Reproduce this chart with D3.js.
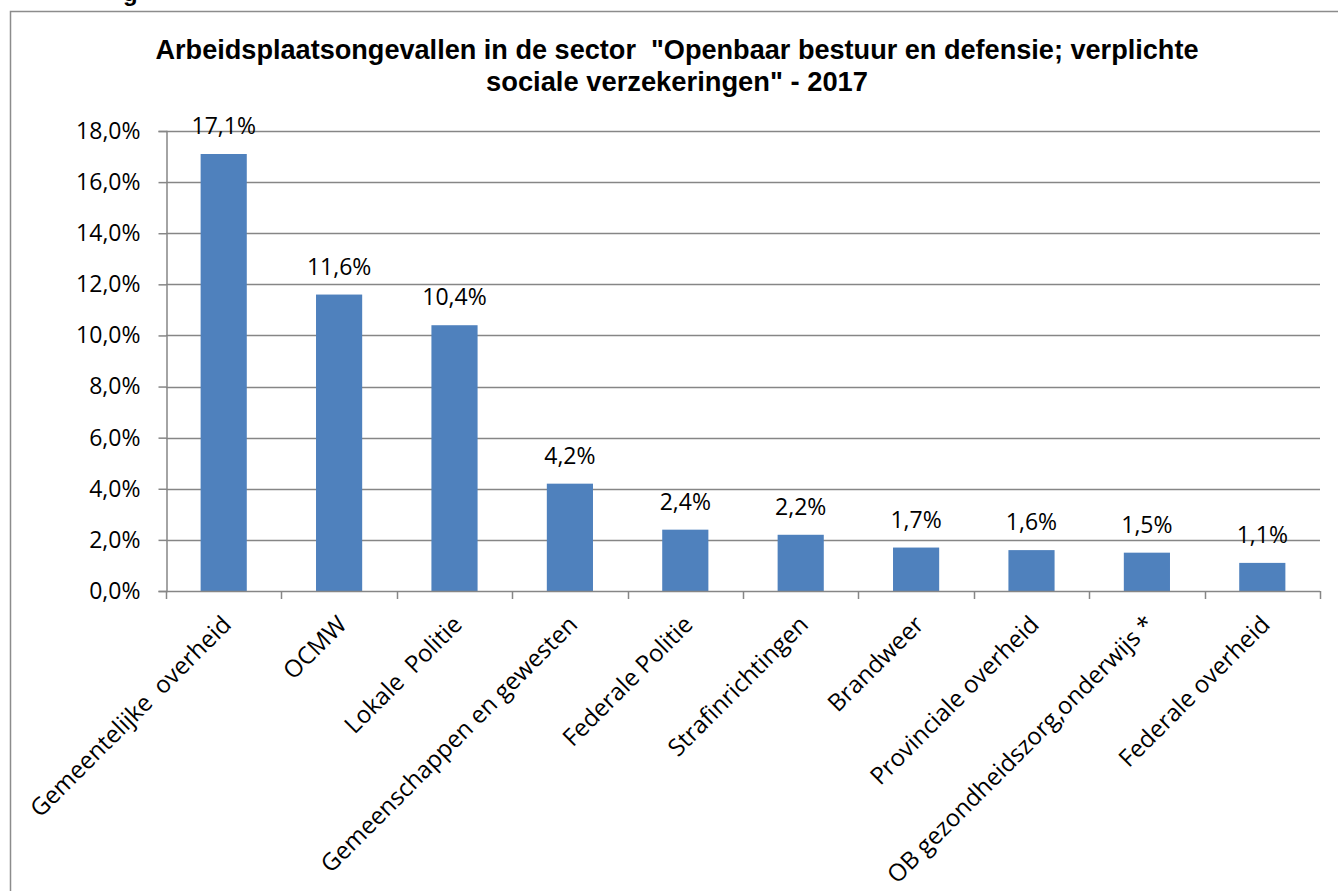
<!DOCTYPE html>
<html>
<head>
<meta charset="utf-8">
<script src="https://d3js.org/d3.v7.min.js"></script>
<style>
  body { margin: 0; background: #fff; }
  svg text { white-space: pre; }
</style>
</head>
<body>
<svg width="1338" height="891"></svg>
<script>
var categories = ["Gemeentelijke  overheid", "OCMW", "Lokale  Politie", "Gemeenschappen en gewesten",
    "Federale Politie", "Strafinrichtingen", "Brandweer", "Provinciale overheid",
    "OB gezondheidszorg,onderwijs *", "Federale overheid"];
var values = [17.1, 11.6, 10.4, 4.2, 2.4, 2.2, 1.7, 1.6, 1.5, 1.1];
var yTicks = [0, 2, 4, 6, 8, 10, 12, 14, 16, 18];
var titleLines = ["Arbeidsplaatsongevallen in de sector  \"Openbaar bestuur en defensie; verplichte",
    "sociale verzekeringen\" - 2017"];

var svg = d3.select("svg"),
    width = +svg.attr("width"),
    height = +svg.attr("height");

var gray = "#868686",
    barColor = "#4f81bd",
    labelFont = "'Open Sans', sans-serif";

var fmt = function(v) { return d3.format(".1f")(v).replace(".", ",") + "%"; };

// chart frame (runs off the picture on the right and bottom)
svg.append("rect")
    .attr("x", 10.5).attr("y", 11.5)
    .attr("width", 1400).attr("height", 1000)
    .attr("fill", "none").attr("stroke", "#8c8c8c").attr("stroke-width", 1.5);

// bit of text cut off above the frame
svg.append("text")
    .attr("x", 123).attr("y", 1)
    .style("font-family", "'Liberation Sans', Arial, sans-serif")
    .style("font-size", "24px")
    .style("font-weight", "bold")
    .text("g");

var x = d3.scaleBand()
    .domain(categories)
    .range([166, 1320])
    .paddingInner(0.6)
    .paddingOuter(0.3);

var y = d3.scaleLinear()
    .domain([0, 18])
    .range([591, 131]);

// title
var tw = [1043, 382];
svg.append("g").selectAll("text")
    .data(titleLines)
    .enter().append("text")
    .attr("x", 677)
    .attr("y", function(d, i) { return 59 + i * 32; })
    .attr("text-anchor", "middle")
    .attr("textLength", function(d, i) { return tw[i]; })
    .attr("lengthAdjust", "spacingAndGlyphs")
    .style("font-family", "'Liberation Sans', Arial, sans-serif")
    .style("font-size", "27px")
    .style("font-weight", "bold")
    .text(function(d) { return d; });

// gridlines
svg.append("g")
    .selectAll("line")
    .data(yTicks.slice(1))
    .enter().append("line")
    .attr("x1", 166).attr("x2", 1320)
    .attr("y1", function(d) { return Math.round(y(d)) + 0.5; })
    .attr("y2", function(d) { return Math.round(y(d)) + 0.5; })
    .attr("stroke", gray).attr("stroke-width", 1.3);

// bars
svg.append("g")
    .selectAll("rect")
    .data(values)
    .enter().append("rect")
    .attr("x", function(d, i) { return x(categories[i]); })
    .attr("y", function(d) { return y(d); })
    .attr("width", x.bandwidth())
    .attr("height", function(d) { return y(0) - y(d); })
    .attr("fill", barColor);

// y axis
var yAxis = svg.append("g")
    .attr("transform", "translate(166.5,0)")
    .call(d3.axisLeft(y).tickValues(yTicks).tickSize(8).tickPadding(18).tickFormat(fmt));
yAxis.select(".domain").attr("stroke", gray).attr("stroke-width", 1.5);
yAxis.selectAll(".tick line").attr("stroke", gray).attr("stroke-width", 1.5);
yAxis.selectAll(".tick text")
    .attr("fill", "#000")
    .style("font-family", labelFont)
    .style("font-size", "23px");

// x axis line and boundary ticks
var step = x.step();
var bounds = d3.range(categories.length + 1).map(function(i) { return 166 + i * step; });
svg.append("line")
    .attr("x1", 166).attr("x2", 1320)
    .attr("y1", 591.5).attr("y2", 591.5)
    .attr("stroke", gray).attr("stroke-width", 1.5);
svg.append("g")
    .selectAll("line")
    .data(bounds)
    .enter().append("line")
    .attr("x1", function(d) { return Math.round(d) + 0.5; })
    .attr("x2", function(d) { return Math.round(d) + 0.5; })
    .attr("y1", 591).attr("y2", 599)
    .attr("stroke", gray).attr("stroke-width", 1.5);

// category labels
svg.append("g")
    .selectAll("text")
    .data(categories)
    .enter().append("text")
    .attr("transform", function(d) {
        var cx = x(d) + x.bandwidth() / 2;
        return "translate(" + (cx + 9) + ",626) rotate(-45)";
    })
    .attr("text-anchor", "end")
    .style("font-family", labelFont)
    .style("font-size", "24px")
    .text(function(d) { return d; });

// value labels
svg.append("g")
    .selectAll("text")
    .data(values)
    .enter().append("text")
    .attr("x", function(d, i) { return x(categories[i]) + x.bandwidth() / 2; })
    .attr("y", function(d) { return y(d) - 20; })
    .attr("text-anchor", "middle")
    .style("font-family", labelFont)
    .style("font-size", "23px")
    .text(fmt);
</script>
</body>
</html>
